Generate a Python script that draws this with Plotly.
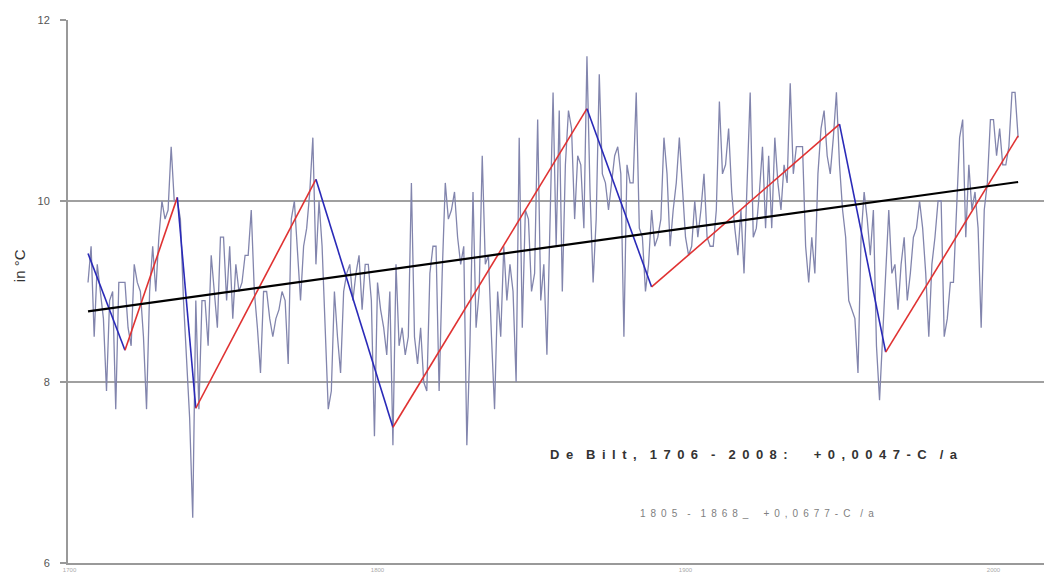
import plotly.graph_objects as go

# Annual mean temperature De Bilt, 1706-2008
temps = [
    9.1, 9.5, 8.5, 9.3,                                      # 1706-1709
    9.0, 8.7, 7.9, 8.9, 9.0, 7.7, 9.1, 9.1, 9.1, 8.6,        # 1710s
    8.4, 9.3, 9.1, 9.0, 8.5, 7.7, 9.0, 9.5, 9.0, 9.6,        # 1720s
    10.0, 9.8, 9.9, 10.6, 10.0, 10.0, 9.8, 8.9, 8.2, 7.6,    # 1730s
    6.5, 8.9, 7.7, 8.9, 8.9, 8.4, 9.4, 9.0, 8.6, 9.6,        # 1740s
    9.6, 8.9, 9.5, 8.7, 9.3, 9.0, 9.1, 9.4, 9.4, 9.9,        # 1750s
    9.0, 8.6, 8.1, 9.0, 9.0, 8.7, 8.5, 8.7, 8.8, 9.0,        # 1760s
    8.9, 8.2, 9.8, 10.0, 9.5, 8.9, 9.5, 9.7, 10.1, 10.7,     # 1770s
    9.3, 10.0, 9.5, 8.5, 7.7, 7.9, 9.0, 8.5, 8.1, 9.0,       # 1780s
    9.2, 9.3, 8.9, 9.2, 9.4, 8.8, 9.3, 9.3, 8.9, 7.4,        # 1790s
    9.1, 8.8, 8.6, 8.3, 9.0, 7.3, 9.3, 8.4, 8.6, 8.3,        # 1800s
    8.5, 10.2, 8.5, 8.2, 8.6, 8.0, 7.9, 9.2, 9.5, 9.5,       # 1810s
    7.9, 9.2, 10.2, 9.8, 9.9, 10.1, 9.6, 9.3, 9.5, 7.3,      # 1820s
    8.4, 10.1, 8.6, 9.0, 10.5, 9.3, 9.4, 8.5, 7.7, 9.0,      # 1830s
    8.5, 9.5, 8.9, 9.3, 9.0, 8.0, 10.7, 8.6, 9.9, 9.8,       # 1840s
    9.0, 9.2, 10.9, 8.9, 9.3, 8.3, 9.8, 11.2, 9.5, 11.0,     # 1850s
    9.0, 10.4, 11.0, 10.8, 9.8, 10.5, 10.4, 9.7, 11.6, 10.1, # 1860s
    9.1, 9.8, 11.4, 10.3, 10.2, 9.9, 10.2, 10.5, 10.6, 10.3, # 1870s
    8.5, 10.4, 10.2, 10.2, 11.2, 9.7, 9.6, 9.0, 9.3, 9.9,    # 1880s
    9.5, 9.6, 9.8, 10.7, 10.3, 9.5, 9.9, 10.2, 10.7, 10.1,   # 1890s
    9.6, 9.4, 9.5, 10.0, 9.6, 9.9, 10.3, 9.6, 9.5, 9.5,      # 1900s
    9.9, 11.1, 10.3, 10.4, 10.8, 10.1, 9.7, 9.4, 9.9, 9.2,   # 1910s
    10.3, 11.2, 9.6, 9.7, 10.1, 10.6, 9.7, 10.5, 9.7, 10.7,  # 1920s
    10.2, 9.9, 10.4, 10.2, 11.3, 10.3, 10.6, 10.6, 10.6, 9.5,# 1930s
    9.1, 9.6, 9.2, 10.3, 10.8, 11.0, 10.5, 10.3, 10.7, 11.2, # 1940s
    10.4, 9.9, 9.6, 8.9, 8.8, 8.7, 8.1, 9.6, 10.1, 9.8,      # 1950s
    9.4, 9.9, 8.4, 7.8, 8.5, 9.2, 9.9, 9.2, 9.3, 8.8,        # 1960s
    9.3, 9.6, 8.9, 9.2, 9.6, 9.7, 10.0, 9.7, 9.2, 8.5,       # 1970s
    9.3, 9.6, 10.0, 10.0, 8.5, 8.7, 9.1, 9.1, 10.0, 10.7,    # 1980s
    10.9, 9.6, 10.4, 9.9, 10.1, 9.7, 8.6, 9.9, 10.2, 10.9,   # 1990s
    10.9, 10.5, 10.8, 10.4, 10.4, 10.6, 11.2, 11.2, 10.7,    # 2000-2008
]
years = list(range(1706, 1706 + len(temps)))

# Zigzag phase lines (turning points)
zig_years = [1706, 1718, 1735, 1741, 1780, 1805, 1868, 1889, 1950, 1965, 2008]
zig_vals = [9.42, 8.35, 10.04, 7.71, 10.24, 7.50, 11.02, 9.05, 10.85, 8.33, 10.72]

# Linear trend 1706-2008
trend_years = [1706, 2008]
trend_vals = [8.78, 10.21]

y_ticks = [6, 8, 10, 12]
x_ticks = [1700, 1800, 1900, 2000]

fig = go.Figure()
fig.add_trace(go.Scatter(x=years, y=temps, mode="lines",
                         line=dict(color="#8285ad", width=1.3),
                         showlegend=False, hoverinfo="skip"))

for i in range(len(zig_years) - 1):
    col = "#2a2ab8" if i % 2 == 0 else "#e03232"
    fig.add_trace(go.Scatter(x=zig_years[i:i + 2], y=zig_vals[i:i + 2], mode="lines",
                             line=dict(color=col, width=1.6),
                             showlegend=False, hoverinfo="skip"))

fig.add_trace(go.Scatter(x=trend_years, y=trend_vals, mode="lines",
                         line=dict(color="#000000", width=2.2),
                         showlegend=False, hoverinfo="skip"))

sp = "\u2002"
main_txt = "D e  B i l t ,  1 7 0 6  -  2 0 0 8 :    + 0 , 0 0 4 7 - C  / a".replace(" ", sp)
sub_txt = "1 8 0 5  -  1 8 6 8 _   + 0 , 0 6 7 7 - C  / a".replace(" ", sp)

fig.add_annotation(x=0.703, y=0.199, xref="paper", yref="paper",
                   xanchor="center", yanchor="middle",
                   text="<b>" + main_txt + "</b>",
                   showarrow=False, font=dict(family="Liberation Sans, Arial", size=13, color="#333333"))
fig.add_annotation(x=0.706, y=0.092, xref="paper", yref="paper",
                   xanchor="center", yanchor="middle",
                   text=sub_txt,
                   showarrow=False, font=dict(family="Liberation Sans, Arial", size=10, color="#808080"))
fig.add_annotation(x=-0.049, y=0.547, xref="paper", yref="paper", textangle=-90,
                   xanchor="center", yanchor="middle",
                   text="in °C", showarrow=False,
                   font=dict(family="Liberation Sans, Arial", size=15, color="#333333"))

fig.update_layout(
    width=1044, height=574,
    margin=dict(l=68, r=0, t=20, b=11),
    paper_bgcolor="white", plot_bgcolor="white",
    font=dict(family="Liberation Sans, Arial", color="#555555"),
    xaxis=dict(range=[1699.5, 2016.4], tickmode="array", tickvals=x_ticks,
               ticktext=[str(t) for t in x_ticks], tickfont=dict(size=6, color="#aaaaaa"),
               showgrid=False, zeroline=False, showline=True, linecolor="#999999", linewidth=2,
               ticks="", ticklen=0, automargin=False),
    yaxis=dict(range=[6, 12], tickmode="array", tickvals=y_ticks,
               ticktext=[str(t) for t in y_ticks], tickfont=dict(size=11, color="#555555"),
               showgrid=True, gridcolor="#a0a0a0", gridwidth=1.5, zeroline=False,
               showline=True, linecolor="#999999", linewidth=2,
               ticks="outside", ticklen=6, tickcolor="#999999", tickwidth=1.5,
               ticklabelstandoff=8, automargin=False),
)

fig.write_html(
    "out.html",
    config={"displayModeBar": False},
    post_script=("document.body.style.margin='0';"
                 "document.body.style.overflow='hidden';"
                 "document.documentElement.style.overflow='hidden';"),
)
